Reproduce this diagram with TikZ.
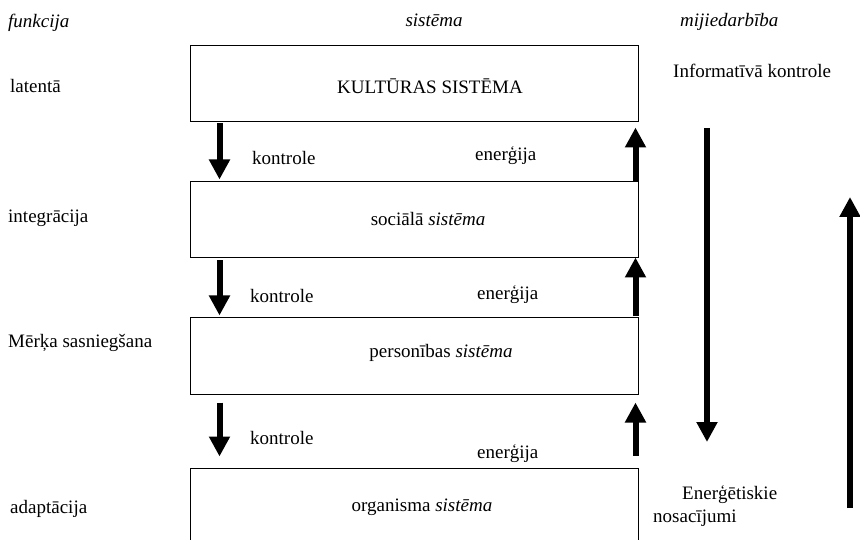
\documentclass[tikz,border=0pt]{standalone}
\usepackage{fontspec}
\setmainfont{Liberation Serif}
\usetikzlibrary{arrows.meta}
\begin{document}
\begin{tikzpicture}[x=1pt,y=-1pt,
  txt/.style={anchor=base west,inner sep=0pt,font=\fontsize{19}{23}\selectfont},
  ctxt/.style={txt,anchor=base},
  sysbox/.style={draw,line width=1pt,minimum width=448pt,minimum height=76pt,inner sep=0pt},
  bigarrow/.style={line width=6pt,-{Triangle[width=20pt,length=20pt]}}]
\clip (0,0) rectangle (860,540);
\fill[white] (0,0) rectangle (860,540);
% boxes
\node[sysbox] (b1) at (414,84) {};
\node[sysbox] (b2) at (414,220) {};
\node[sysbox] (b3) at (414,356) {};
\node[sysbox,minimum height=84pt] (b4) at (414,510) {};
% headers
\node[txt] (h1) at (8,28) {\itshape funkcija};
\node[ctxt] (h2) at (434,27) {\itshape sistēma};
\node[txt] (h3) at (680,27) {\itshape mijiedarbība};
% left column
\node[txt] (f1) at (10,93) {latentā};
\node[txt] (f2) at (8,223) {integrācija};
\node[txt] (f3) at (8,347) {Mērķa sasniegšana};
\node[txt] (f4) at (10,513) {adaptācija};
% box texts
\node[ctxt] (s1) at (430,94) {KULTŪRAS SISTĒMA};
\node[ctxt] (s2) at (428,226) {sociālā \textit{sistēma}};
\node[ctxt] (s3) at (441,357) {personības \textit{sistēma}};
\node[ctxt] (s4) at (422,511) {organisma \textit{sistēma}};
% labels between boxes
\node[txt] (k1) at (252,165) {kontrole};
\node[txt] (k2) at (250,303) {kontrole};
\node[txt] (k3) at (250,444) {kontrole};
\node[txt] (e1) at (475,161) {enerģija};
\node[txt] (e2) at (477,300) {enerģija};
\node[txt] (e3) at (477,458) {enerģija};
% right column
\node[txt] (r1) at (673,78) {Informatīvā kontrole};
\node[txt] (r2) at (682,499) {Enerģētiskie};
\node[txt] (r3) at (653,522) {nosacījumi};
% arrows between boxes
\draw[bigarrow] ([xshift=30pt,yshift=-1pt]b1.south west) -- ([xshift=30pt,yshift=2pt]b2.north west);
\draw[bigarrow] ([xshift=30pt,yshift=-2pt]b2.south west) -- ([xshift=30pt,yshift=2pt]b3.north west);
\draw[bigarrow] ([xshift=30pt,yshift=-8pt]b3.south west) -- ([xshift=30pt,yshift=11pt]b4.north west);
\draw[bigarrow] ([xshift=-3pt]b2.north east) -- ([xshift=-3pt,yshift=-5pt]b1.south east);
\draw[bigarrow] ([xshift=-3pt,yshift=1pt]b3.north east) -- ([xshift=-3pt,yshift=1pt]b2.south east);
\draw[bigarrow] ([xshift=-3pt,yshift=12pt]b4.north east) -- ([xshift=-3pt,yshift=-8pt]b3.south east);
% long arrows
\coordinate (d1) at (707,128);
\coordinate (d2) at (707,442);
\coordinate (u1) at (850,508);
\coordinate (u2) at (850,197);
\draw[bigarrow] (d1) -- (d2);
\draw[bigarrow] (u1) -- (u2);
\end{tikzpicture}
\end{document}
